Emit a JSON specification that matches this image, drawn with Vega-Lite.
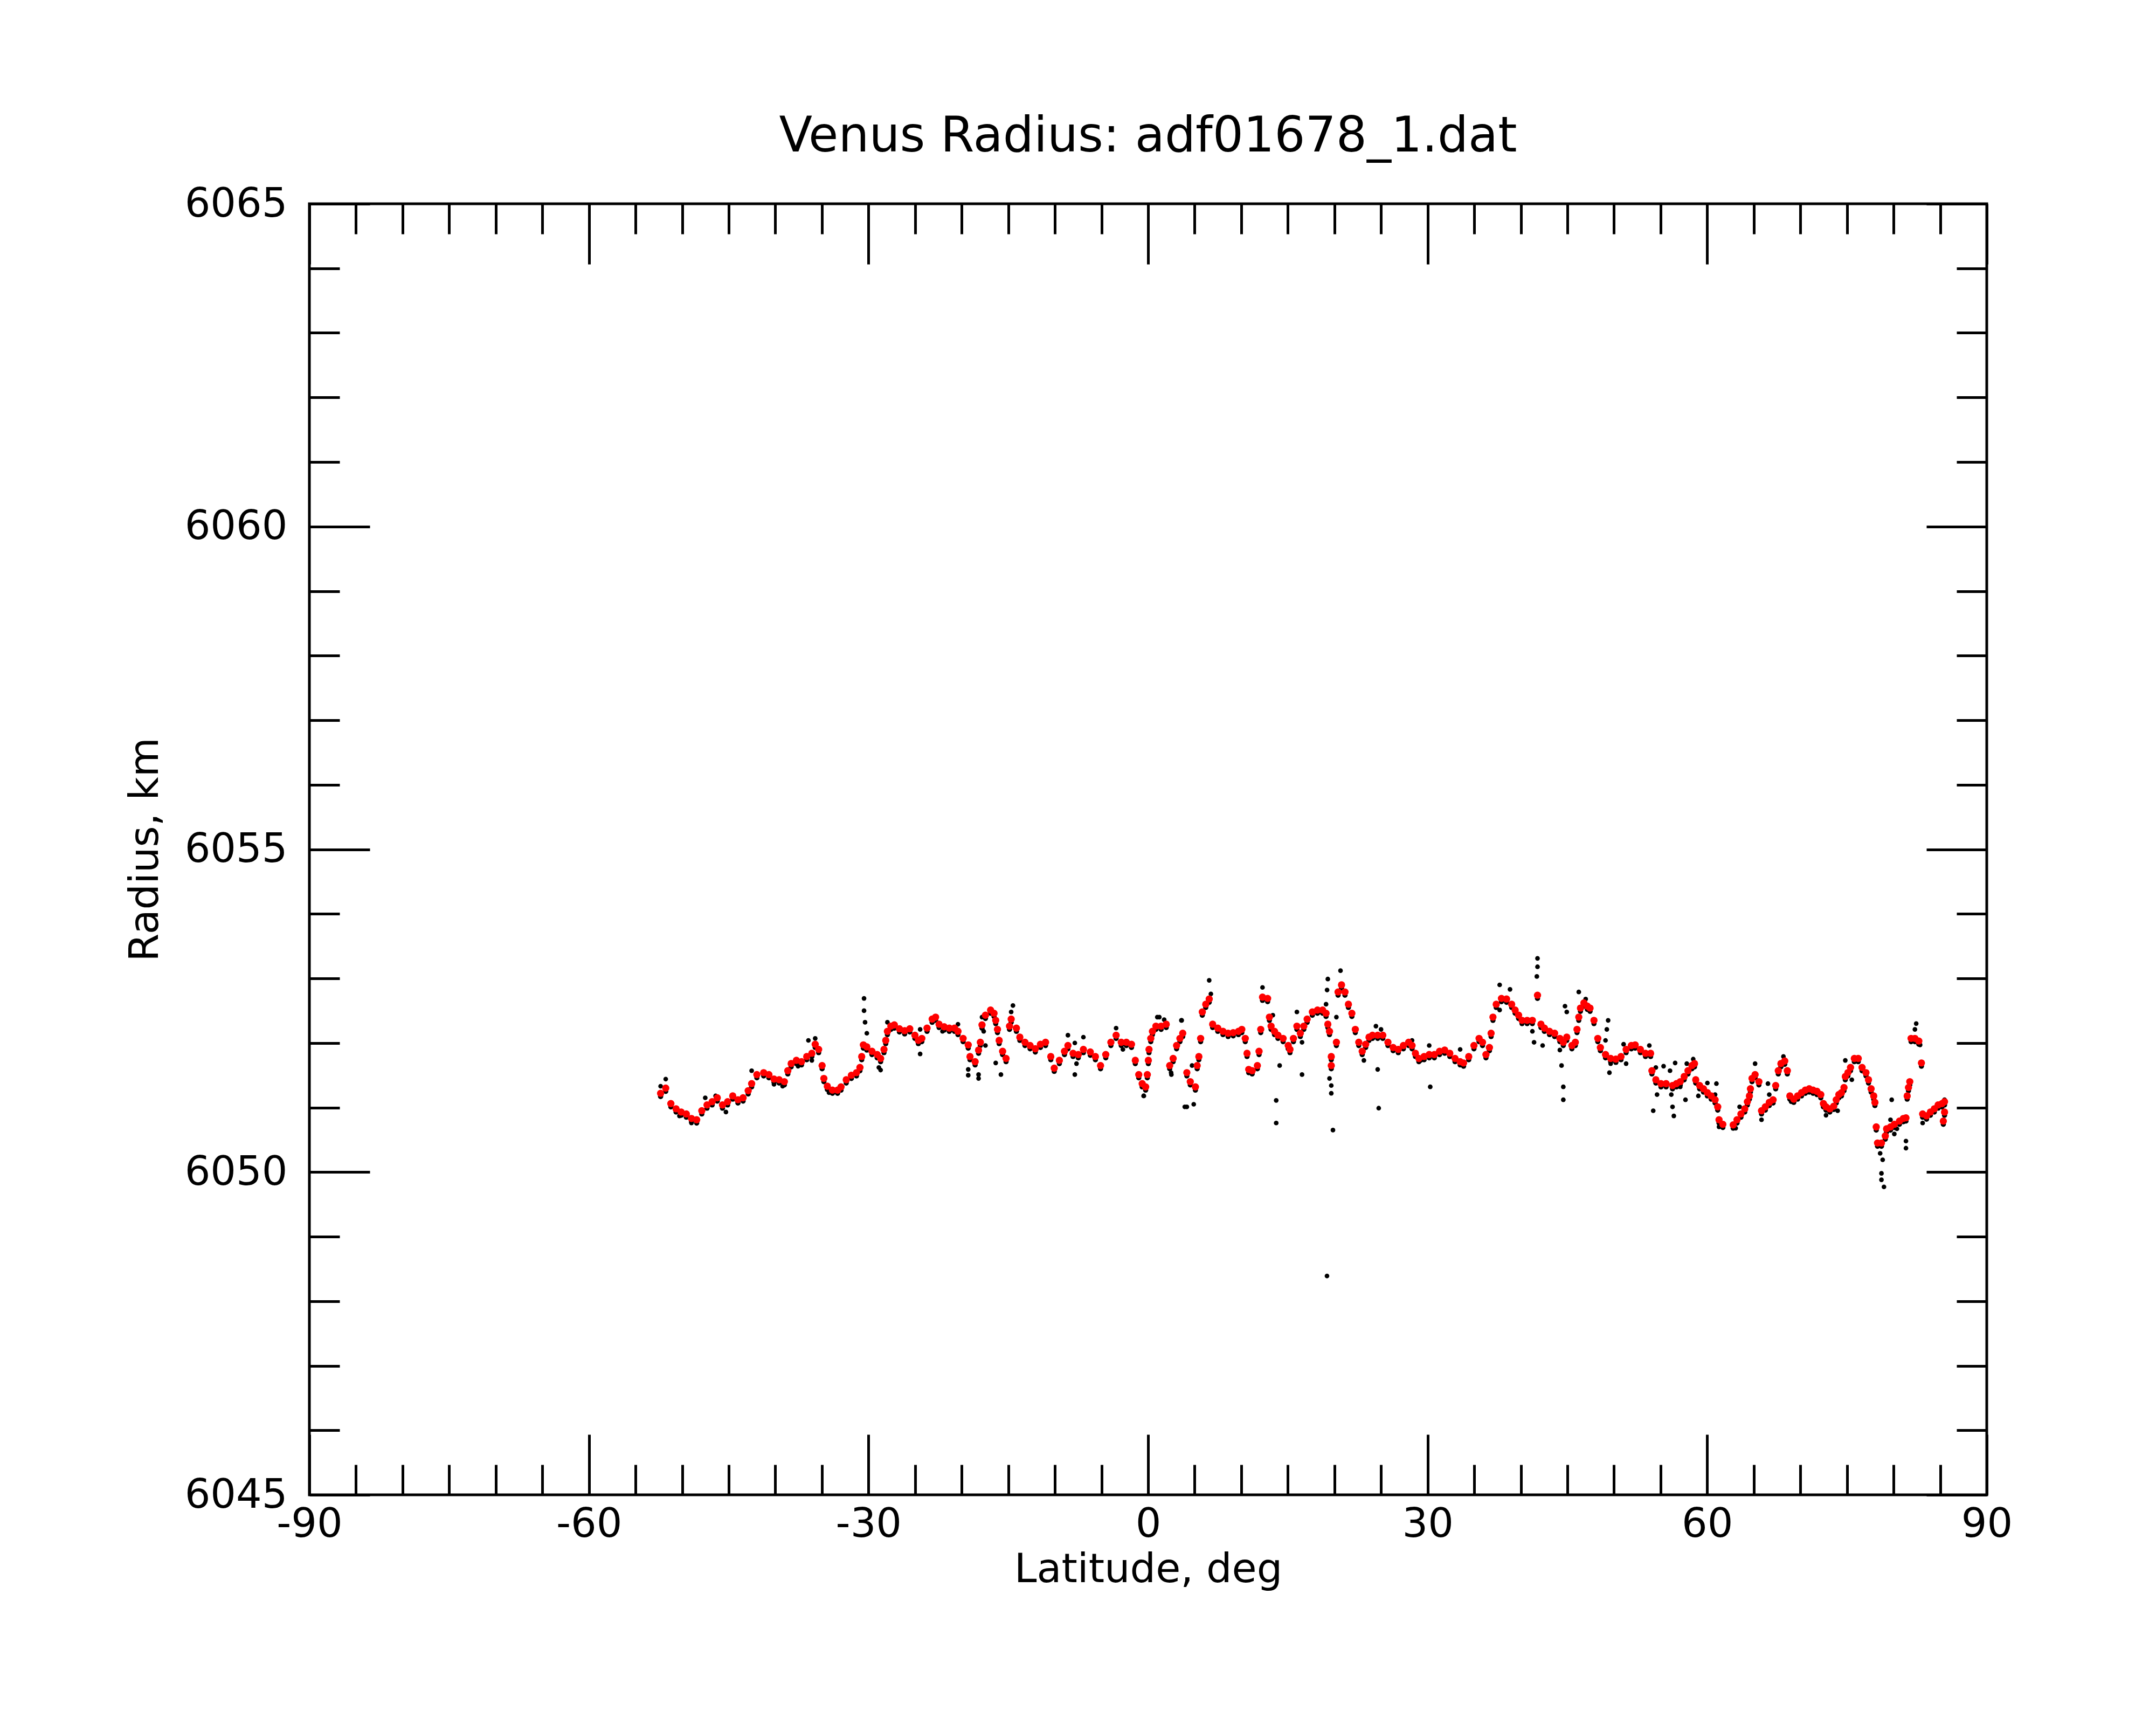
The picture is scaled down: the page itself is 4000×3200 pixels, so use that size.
{
"$schema": "https://vega.github.io/schema/vega-lite/v6.json",
"width": 3112, "height": 2395,
"autosize": {"type": "none"},
"padding": {"left": 574, "top": 378, "right": 314, "bottom": 427},
"background": "white",
"title": {"text": "Venus Radius: adf01678_1.dat", "fontSize": 90, "font": "DejaVu Sans", "fontWeight": "normal", "color": "black", "anchor": "middle", "baseline": "alphabetic", "offset": -30},
"config": {
 "view": {"stroke": "black", "strokeWidth": 5},
 "axis": {"domain": false, "grid": false, "tickColor": "black", "tickWidth": 5, "labelFont": "DejaVu Sans", "labelFontSize": 75, "labelColor": "black", "titleFont": "DejaVu Sans", "titleFontSize": 75, "titleFontWeight": "normal", "titleColor": "black", "labelFlush": false, "labelOverlap": false, "labelLimit": 0}
},
"datasets": {
"fit": [
{"lat":-52.31,"r":6051.22},{"lat":-51.76,"r":6051.30},{"lat":-51.21,"r":6051.06},{"lat":-50.65,"r":6050.98},{"lat":-50.10,"r":6050.93},{"lat":-49.55,"r":6050.90},{"lat":-49.00,"r":6050.83},{"lat":-48.44,"r":6050.81},{"lat":-47.89,"r":6050.95},{"lat":-47.33,"r":6051.04},{"lat":-46.78,"r":6051.09},{"lat":-46.23,"r":6051.15},{"lat":-45.67,"r":6051.04},{"lat":-45.12,"r":6051.09},{"lat":-44.57,"r":6051.18},{"lat":-44.01,"r":6051.12},{"lat":-43.46,"r":6051.15},{"lat":-42.91,"r":6051.26},{"lat":-42.54,"r":6051.37},{"lat":-41.98,"r":6051.51},{"lat":-41.25,"r":6051.54},{"lat":-40.69,"r":6051.51},{"lat":-40.14,"r":6051.44},{"lat":-39.59,"r":6051.43},{"lat":-39.03,"r":6051.40},{"lat":-38.66,"r":6051.57},{"lat":-38.30,"r":6051.68},{"lat":-37.74,"r":6051.73},{"lat":-37.19,"r":6051.71},{"lat":-36.63,"r":6051.79},{"lat":-36.08,"r":6051.84},{"lat":-35.72,"r":6051.98},{"lat":-35.35,"r":6051.90},{"lat":-34.98,"r":6051.65},{"lat":-34.79,"r":6051.45},{"lat":-34.42,"r":6051.33},{"lat":-33.87,"r":6051.27},{"lat":-33.32,"r":6051.27},{"lat":-32.95,"r":6051.32},{"lat":-32.39,"r":6051.43},{"lat":-31.84,"r":6051.50},{"lat":-31.29,"r":6051.54},{"lat":-30.92,"r":6051.62},{"lat":-30.73,"r":6051.79},{"lat":-30.55,"r":6051.97},{"lat":-30.18,"r":6051.94},{"lat":-29.63,"r":6051.87},{"lat":-29.07,"r":6051.82},{"lat":-28.70,"r":6051.76},{"lat":-28.34,"r":6051.90},{"lat":-28.15,"r":6052.04},{"lat":-27.97,"r":6052.18},{"lat":-27.60,"r":6052.26},{"lat":-27.23,"r":6052.28},{"lat":-26.68,"r":6052.22},{"lat":-26.12,"r":6052.19},{"lat":-25.57,"r":6052.22},{"lat":-25.02,"r":6052.12},{"lat":-24.65,"r":6052.04},{"lat":-24.28,"r":6052.07},{"lat":-23.72,"r":6052.23},{"lat":-23.17,"r":6052.37},{"lat":-22.80,"r":6052.40},{"lat":-22.43,"r":6052.29},{"lat":-21.88,"r":6052.25},{"lat":-21.33,"r":6052.23},{"lat":-20.77,"r":6052.23},{"lat":-20.40,"r":6052.18},{"lat":-19.85,"r":6052.07},{"lat":-19.30,"r":6051.97},{"lat":-19.11,"r":6051.79},{"lat":-18.56,"r":6051.71},{"lat":-18.19,"r":6051.89},{"lat":-18.00,"r":6052.01},{"lat":-17.82,"r":6052.28},{"lat":-17.45,"r":6052.43},{"lat":-16.90,"r":6052.51},{"lat":-16.53,"r":6052.46},{"lat":-16.35,"r":6052.35},{"lat":-16.16,"r":6052.21},{"lat":-15.98,"r":6052.04},{"lat":-15.61,"r":6051.87},{"lat":-15.24,"r":6051.76},{"lat":-14.87,"r":6052.26},{"lat":-14.69,"r":6052.37},{"lat":-14.13,"r":6052.23},{"lat":-13.76,"r":6052.09},{"lat":-13.21,"r":6052.01},{"lat":-12.66,"r":6051.96},{"lat":-12.10,"r":6051.91},{"lat":-11.55,"r":6051.98},{"lat":-11.00,"r":6052.01},{"lat":-10.44,"r":6051.79},{"lat":-10.07,"r":6051.61},{"lat":-9.52,"r":6051.73},{"lat":-8.97,"r":6051.87},{"lat":-8.60,"r":6051.96},{"lat":-8.05,"r":6051.84},{"lat":-7.49,"r":6051.82},{"lat":-6.94,"r":6051.90},{"lat":-6.20,"r":6051.86},{"lat":-5.65,"r":6051.79},{"lat":-5.10,"r":6051.65},{"lat":-4.54,"r":6051.82},{"lat":-3.99,"r":6052.01},{"lat":-3.43,"r":6052.12},{"lat":-2.88,"r":6052.01},{"lat":-2.33,"r":6052.01},{"lat":-1.78,"r":6051.98},
{"lat":-1.37,"r":6051.73},{"lat":-1.00,"r":6051.51},{"lat":-0.63,"r":6051.37},{"lat":-0.26,"r":6051.32},{"lat":-0.08,"r":6051.51},{"lat":0.03,"r":6051.73},{"lat":0.10,"r":6051.90},{"lat":0.29,"r":6052.07},{"lat":0.47,"r":6052.18},{"lat":0.84,"r":6052.26},{"lat":1.40,"r":6052.26},{"lat":1.95,"r":6052.29},{"lat":2.32,"r":6051.65},{"lat":2.69,"r":6051.76},{"lat":3.06,"r":6051.96},{"lat":3.42,"r":6052.07},{"lat":3.72,"r":6052.15},{"lat":4.16,"r":6051.54},{"lat":4.53,"r":6051.40},{"lat":5.08,"r":6051.32},{"lat":5.27,"r":6051.65},{"lat":5.45,"r":6051.79},{"lat":5.64,"r":6052.07},{"lat":5.82,"r":6052.48},{"lat":6.19,"r":6052.60},{"lat":6.56,"r":6052.68},{"lat":6.93,"r":6052.29},{"lat":7.48,"r":6052.23},{"lat":8.04,"r":6052.18},{"lat":8.59,"r":6052.15},{"lat":9.14,"r":6052.16},{"lat":9.70,"r":6052.18},{"lat":10.06,"r":6052.21},{"lat":10.43,"r":6052.07},{"lat":10.62,"r":6051.84},{"lat":10.80,"r":6051.59},{"lat":11.17,"r":6051.57},{"lat":11.73,"r":6051.65},{"lat":11.91,"r":6051.87},{"lat":12.09,"r":6052.21},{"lat":12.28,"r":6052.71},{"lat":12.83,"r":6052.69},{"lat":13.02,"r":6052.40},{"lat":13.20,"r":6052.26},{"lat":13.57,"r":6052.18},{"lat":13.94,"r":6052.12},{"lat":14.49,"r":6052.07},{"lat":15.04,"r":6051.96},{"lat":15.23,"r":6051.90},{"lat":15.60,"r":6052.07},{"lat":15.97,"r":6052.26},{"lat":16.34,"r":6052.15},{"lat":16.71,"r":6052.26},{"lat":17.07,"r":6052.37},{"lat":17.63,"r":6052.48},{"lat":18.18,"r":6052.51},{"lat":18.73,"r":6052.51},{"lat":19.10,"r":6052.46},{"lat":19.29,"r":6052.29},{"lat":19.47,"r":6052.18},{"lat":19.66,"r":6051.79},{"lat":19.66,"r":6051.65},{"lat":20.21,"r":6052.01},{"lat":20.39,"r":6052.79},{"lat":20.76,"r":6052.90},{"lat":21.13,"r":6052.79},{"lat":21.50,"r":6052.60},{"lat":21.87,"r":6052.46},{"lat":22.24,"r":6052.21},{"lat":22.61,"r":6052.01},{"lat":22.98,"r":6051.87},{"lat":23.35,"r":6051.98},{"lat":23.71,"r":6052.09},{"lat":24.08,"r":6052.12},{"lat":24.64,"r":6052.12},{"lat":25.19,"r":6052.12},{"lat":25.74,"r":6052.01},{"lat":26.30,"r":6051.93},{"lat":26.85,"r":6051.90},{"lat":27.40,"r":6051.96},{"lat":27.96,"r":6052.01},{"lat":28.33,"r":6051.96},{"lat":28.69,"r":6051.84},{"lat":29.06,"r":6051.76},{"lat":29.62,"r":6051.79},{"lat":30.17,"r":6051.82},{"lat":30.72,"r":6051.82},{"lat":31.28,"r":6051.87},{"lat":31.83,"r":6051.89},{"lat":32.38,"r":6051.84},{"lat":32.94,"r":6051.76},{"lat":33.49,"r":6051.71},{"lat":33.86,"r":6051.69},{"lat":34.41,"r":6051.79},{"lat":34.97,"r":6051.96},{"lat":35.52,"r":6052.07},{"lat":35.89,"r":6052.01},{"lat":36.26,"r":6051.82},{"lat":36.63,"r":6051.93},{"lat":36.81,"r":6052.15},{"lat":37.01,"r":6052.40},{"lat":37.36,"r":6052.60},{"lat":37.92,"r":6052.69},{"lat":38.47,"r":6052.68},{"lat":39.02,"r":6052.60},{"lat":39.39,"r":6052.51},{"lat":39.76,"r":6052.43},{"lat":40.13,"r":6052.35},{"lat":40.68,"r":6052.35},{"lat":41.24,"r":6052.35},{"lat":41.79,"r":6052.74},{"lat":42.16,"r":6052.29},{"lat":42.53,"r":6052.23},{"lat":43.08,"r":6052.18},{"lat":43.63,"r":6052.15},{"lat":44.19,"r":6052.07},{"lat":44.56,"r":6052.01},{"lat":44.93,"r":6052.09},{"lat":45.48,"r":6051.96},{"lat":45.85,"r":6052.01},{"lat":46.03,"r":6052.21},{"lat":46.22,"r":6052.40},{"lat":46.40,"r":6052.54},{"lat":46.77,"r":6052.62},{"lat":47.14,"r":6052.57},
{"lat":47.43,"r":6052.54},{"lat":47.85,"r":6052.35},{"lat":48.26,"r":6052.07},{"lat":48.54,"r":6051.93},{"lat":49.09,"r":6051.82},{"lat":49.64,"r":6051.76},{"lat":50.20,"r":6051.75},{"lat":50.75,"r":6051.79},{"lat":51.30,"r":6051.90},{"lat":51.86,"r":6051.96},{"lat":52.27,"r":6051.97},{"lat":52.83,"r":6051.90},{"lat":53.38,"r":6051.84},{"lat":53.93,"r":6051.84},{"lat":54.07,"r":6051.57},{"lat":54.49,"r":6051.43},{"lat":55.04,"r":6051.37},{"lat":55.59,"r":6051.37},{"lat":56.28,"r":6051.34},{"lat":56.70,"r":6051.37},{"lat":57.11,"r":6051.40},{"lat":57.53,"r":6051.48},{"lat":57.94,"r":6051.57},{"lat":58.36,"r":6051.65},{"lat":58.64,"r":6051.68},{"lat":58.77,"r":6051.43},{"lat":59.19,"r":6051.34},{"lat":59.60,"r":6051.29},{"lat":60.02,"r":6051.23},{"lat":60.43,"r":6051.18},{"lat":60.85,"r":6051.12},{"lat":61.13,"r":6051.01},{"lat":61.27,"r":6050.81},{"lat":61.68,"r":6050.74},{"lat":62.79,"r":6050.73},{"lat":63.20,"r":6050.81},{"lat":63.62,"r":6050.90},{"lat":64.03,"r":6050.98},{"lat":64.31,"r":6051.09},{"lat":64.53,"r":6051.18},{"lat":64.64,"r":6051.29},{"lat":64.81,"r":6051.45},{"lat":65.14,"r":6051.51},{"lat":65.55,"r":6051.40},{"lat":65.83,"r":6050.95},{"lat":66.24,"r":6051.01},{"lat":66.66,"r":6051.08},{"lat":67.07,"r":6051.12},{"lat":67.35,"r":6051.34},{"lat":67.63,"r":6051.57},{"lat":67.91,"r":6051.68},{"lat":68.32,"r":6051.72},{"lat":68.60,"r":6051.57},{"lat":68.87,"r":6051.18},{"lat":69.29,"r":6051.13},{"lat":69.70,"r":6051.18},{"lat":70.12,"r":6051.23},{"lat":70.53,"r":6051.27},{"lat":70.95,"r":6051.29},{"lat":71.36,"r":6051.27},{"lat":71.78,"r":6051.25},{"lat":72.19,"r":6051.20},{"lat":72.47,"r":6051.06},{"lat":72.75,"r":6051.01},{"lat":73.16,"r":6050.98},{"lat":73.58,"r":6051.02},{"lat":73.85,"r":6051.12},{"lat":74.13,"r":6051.20},{"lat":74.41,"r":6051.23},{"lat":74.68,"r":6051.31},{"lat":74.82,"r":6051.48},{"lat":75.10,"r":6051.54},{"lat":75.38,"r":6051.62},{"lat":75.79,"r":6051.76},{"lat":76.21,"r":6051.76},{"lat":76.62,"r":6051.62},{"lat":77.04,"r":6051.54},{"lat":77.31,"r":6051.43},{"lat":77.59,"r":6051.29},{"lat":77.87,"r":6051.18},{"lat":78.00,"r":6051.08},{"lat":78.14,"r":6050.70},{"lat":78.28,"r":6050.45},{"lat":78.70,"r":6050.45},{"lat":79.11,"r":6050.56},{"lat":79.25,"r":6050.67},{"lat":79.67,"r":6050.70},{"lat":80.08,"r":6050.74},{"lat":80.63,"r":6050.79},{"lat":81.05,"r":6050.83},{"lat":81.33,"r":6050.84},{"lat":81.46,"r":6051.18},{"lat":81.60,"r":6051.31},{"lat":81.74,"r":6051.40},{"lat":81.88,"r":6052.07},{"lat":82.29,"r":6052.07},{"lat":82.71,"r":6052.03},{"lat":82.99,"r":6051.69},{"lat":83.12,"r":6050.90},{"lat":83.54,"r":6050.87},{"lat":83.95,"r":6050.93},{"lat":84.37,"r":6050.98},{"lat":84.78,"r":6051.04},{"lat":85.20,"r":6051.06},{"lat":85.47,"r":6051.09},{"lat":85.47,"r":6050.93},{"lat":85.34,"r":6050.79}
],
"raw": [
{"lat":-51.76,"r":6051.44,"grp":"a"},{"lat":-52.31,"r":6051.33,"grp":"a"},{"lat":-50.29,"r":6050.87,"grp":"a"},{"lat":-49.00,"r":6050.76,"grp":"a"},{"lat":-47.52,"r":6051.15,"grp":"a"},{"lat":-46.41,"r":6051.18,"grp":"a"},{"lat":-45.30,"r":6050.93,"grp":"a"},{"lat":-42.54,"r":6051.57,"grp":"a"},{"lat":-37.56,"r":6051.64,"grp":"a"},{"lat":-40.14,"r":6051.36,"grp":"a"},{"lat":-39.22,"r":6051.33,"grp":"a"},{"lat":-36.45,"r":6052.04,"grp":"a"},{"lat":-35.72,"r":6052.07,"grp":"a"},{"lat":-36.08,"r":6051.73,"grp":"a"},{"lat":-34.24,"r":6051.23,"grp":"a"},{"lat":-33.32,"r":6051.22,"grp":"a"},{"lat":-30.48,"r":6052.69,"grp":"a"},{"lat":-30.48,"r":6052.50,"grp":"a"},{"lat":-30.37,"r":6052.32,"grp":"a"},{"lat":-30.18,"r":6052.15,"grp":"a"},{"lat":-28.89,"r":6051.62,"grp":"a"},{"lat":-28.70,"r":6051.58,"grp":"a"},{"lat":-27.97,"r":6052.32,"grp":"a"},{"lat":-24.46,"r":6052.21,"grp":"a"},{"lat":-24.46,"r":6051.83,"grp":"a"},{"lat":-22.06,"r":6052.18,"grp":"a"},{"lat":-20.40,"r":6052.29,"grp":"a"},{"lat":-19.30,"r":6051.59,"grp":"a"},{"lat":-19.30,"r":6051.50,"grp":"a"},{"lat":-18.19,"r":6051.51,"grp":"a"},{"lat":-18.19,"r":6051.45,"grp":"a"},{"lat":-17.82,"r":6052.40,"grp":"a"},{"lat":-17.64,"r":6052.18,"grp":"a"},{"lat":-17.45,"r":6051.96,"grp":"a"},{"lat":-16.35,"r":6051.69,"grp":"a"},{"lat":-15.79,"r":6051.51,"grp":"a"},{"lat":-14.50,"r":6052.58,"grp":"a"},{"lat":-14.69,"r":6052.48,"grp":"a"},{"lat":-8.60,"r":6052.12,"grp":"a"},{"lat":-7.86,"r":6052.00,"grp":"a"},{"lat":-7.86,"r":6051.51,"grp":"a"},{"lat":-7.68,"r":6051.68,"grp":"a"},{"lat":-6.94,"r":6052.09,"grp":"a"},{"lat":-3.43,"r":6052.23,"grp":"a"},{"lat":-2.70,"r":6051.90,"grp":"a"},{"lat":-0.48,"r":6051.18,"grp":"a"},{"lat":0.99,"r":6052.40,"grp":"a"},{"lat":1.73,"r":6052.36,"grp":"a"},{"lat":3.57,"r":6052.35,"grp":"a"},{"lat":2.47,"r":6051.54,"grp":"a"},{"lat":3.94,"r":6051.01,"grp":"a"},
{"lat":6.56,"r":6052.97,"grp":"a"},{"lat":6.74,"r":6052.76,"grp":"a"},{"lat":12.28,"r":6052.86,"grp":"a"},{"lat":13.39,"r":6052.43,"grp":"a"},{"lat":14.12,"r":6051.65,"grp":"a"},{"lat":13.75,"r":6051.11,"grp":"a"},{"lat":13.75,"r":6050.76,"grp":"a"},{"lat":15.97,"r":6052.48,"grp":"a"},{"lat":16.52,"r":6051.51,"grp":"a"},{"lat":16.52,"r":6052.01,"grp":"a"},{"lat":19.29,"r":6052.99,"grp":"a"},{"lat":19.21,"r":6052.82,"grp":"a"},{"lat":19.10,"r":6052.60,"grp":"a"},{"lat":19.47,"r":6051.45,"grp":"a"},{"lat":19.66,"r":6051.34,"grp":"a"},{"lat":19.66,"r":6051.22,"grp":"a"},{"lat":19.84,"r":6050.65,"grp":"a"},{"lat":19.20,"r":6048.39,"grp":"a"},{"lat":20.21,"r":6052.40,"grp":"a"},{"lat":20.65,"r":6053.12,"grp":"a"},{"lat":23.16,"r":6051.73,"grp":"a"},{"lat":24.45,"r":6052.26,"grp":"a"},{"lat":24.64,"r":6051.59,"grp":"a"},{"lat":24.75,"r":6050.99,"grp":"a"},{"lat":25.00,"r":6052.21,"grp":"a"},{"lat":30.17,"r":6051.96,"grp":"a"},{"lat":30.28,"r":6051.32,"grp":"a"},{"lat":33.49,"r":6051.90,"grp":"a"},{"lat":37.73,"r":6052.90,"grp":"a"},{"lat":38.84,"r":6052.83,"grp":"a"},{"lat":37.73,"r":6052.51,"grp":"a"},{"lat":41.79,"r":6053.31,"grp":"a"},{"lat":41.79,"r":6053.18,"grp":"a"},{"lat":41.72,"r":6053.03,"grp":"a"},{"lat":41.24,"r":6052.18,"grp":"a"},{"lat":41.42,"r":6052.01,"grp":"a"},{"lat":42.34,"r":6051.96,"grp":"a"},{"lat":44.19,"r":6051.89,"grp":"a"},{"lat":44.37,"r":6051.65,"grp":"a"},{"lat":44.56,"r":6051.32,"grp":"a"},{"lat":44.56,"r":6051.12,"grp":"a"},{"lat":44.74,"r":6052.57,"grp":"a"},{"lat":44.93,"r":6052.48,"grp":"a"},{"lat":46.22,"r":6052.79,"grp":"a"},{"lat":46.96,"r":6052.68,"grp":"a"},{"lat":4.16,"r":6051.01,"grp":"a"},{"lat":4.90,"r":6051.05,"grp":"a"},{"lat":4.72,"r":6051.65,"grp":"a"},{"lat":3.61,"r":6052.35,"grp":"a"},{"lat":2.50,"r":6051.51,"grp":"a"},{"lat":1.21,"r":6052.40,"grp":"a"},{"lat":-0.45,"r":6051.18,"grp":"a"},{"lat":33.67,"r":6051.68,"grp":"a"},{"lat":29.25,"r":6051.73,"grp":"a"},{"lat":28.33,"r":6052.04,"grp":"a"},
{"lat":49.37,"r":6052.35,"grp":"b"},{"lat":49.23,"r":6052.21,"grp":"b"},{"lat":49.09,"r":6052.04,"grp":"b"},{"lat":49.51,"r":6051.54,"grp":"b"},{"lat":49.64,"r":6051.68,"grp":"b"},{"lat":51.03,"r":6051.98,"grp":"b"},{"lat":51.30,"r":6051.68,"grp":"b"},{"lat":53.79,"r":6051.96,"grp":"b"},{"lat":54.21,"r":6050.95,"grp":"b"},{"lat":54.49,"r":6051.62,"grp":"b"},{"lat":54.62,"r":6051.20,"grp":"b"},{"lat":55.32,"r":6051.64,"grp":"b"},{"lat":56.01,"r":6051.57,"grp":"b"},{"lat":56.15,"r":6051.20,"grp":"b"},{"lat":56.28,"r":6051.01,"grp":"b"},{"lat":56.42,"r":6050.87,"grp":"b"},{"lat":56.56,"r":6051.69,"grp":"b"},{"lat":57.11,"r":6051.32,"grp":"b"},{"lat":57.67,"r":6051.12,"grp":"b"},{"lat":57.81,"r":6051.68,"grp":"b"},{"lat":58.50,"r":6051.75,"grp":"b"},{"lat":59.05,"r":6051.18,"grp":"b"},{"lat":60.02,"r":6051.38,"grp":"b"},{"lat":60.99,"r":6051.37,"grp":"b"},{"lat":60.85,"r":6051.20,"grp":"b"},{"lat":61.27,"r":6050.70,"grp":"b"},{"lat":63.06,"r":6050.68,"grp":"b"},{"lat":63.48,"r":6051.01,"grp":"b"},{"lat":65.14,"r":6051.68,"grp":"b"},{"lat":66.52,"r":6051.37,"grp":"b"},{"lat":66.66,"r":6051.20,"grp":"b"},{"lat":65.83,"r":6050.81,"grp":"b"},{"lat":68.18,"r":6051.79,"grp":"b"},{"lat":69.01,"r":6051.09,"grp":"b"},{"lat":72.75,"r":6050.88,"grp":"b"},{"lat":74.00,"r":6050.95,"grp":"b"},{"lat":74.82,"r":6051.73,"grp":"b"},{"lat":75.52,"r":6051.43,"grp":"b"},{"lat":78.56,"r":6050.29,"grp":"b"},{"lat":78.83,"r":6050.19,"grp":"b"},{"lat":78.70,"r":6049.98,"grp":"b"},{"lat":78.70,"r":6049.88,"grp":"b"},{"lat":78.97,"r":6049.77,"grp":"b"},{"lat":79.80,"r":6051.12,"grp":"b"},{"lat":80.08,"r":6050.59,"grp":"b"},{"lat":79.67,"r":6050.81,"grp":"b"},{"lat":81.33,"r":6050.48,"grp":"b"},{"lat":81.33,"r":6050.37,"grp":"b"},{"lat":82.43,"r":6052.30,"grp":"b"},{"lat":82.29,"r":6052.21,"grp":"b"},{"lat":82.85,"r":6051.97,"grp":"b"},{"lat":83.12,"r":6050.76,"grp":"b"},{"lat":85.47,"r":6051.12,"grp":"b"},{"lat":80.36,"r":6050.67,"grp":"b"}
]
},
"layer": [
{
 "data": {"name": "raw"},
 "transform": [{"filter": "datum.grp == 'a'"}],
 "mark": {"type": "point", "filled": true, "shape": "circle", "color": "black", "size": 75, "opacity": 1, "strokeWidth": 0},
 "encoding": {
  "x": {"field": "lat", "type": "quantitative", "scale": {"domain": [-90, 90], "nice": false, "zero": false},
   "axis": {"orient": "bottom", "values": [-90,-60,-30,0,30,60,90], "tickSize": -112, "labelPadding": 130, "labelExpr": "'' + datum.value", "title": "Latitude, deg", "titlePadding": 10}},
  "y": {"field": "r", "type": "quantitative", "scale": {"domain": [6045, 6065], "nice": false, "zero": false},
   "axis": {"orient": "left", "values": [6045,6050,6055,6060,6065], "tickSize": -112, "labelPadding": 153, "labelExpr": "'' + datum.value", "title": "Radius, km", "titlePadding": 66}}
 }
},
{
 "data": {"name": "fit"},
 "mark": {"type": "point", "filled": true, "shape": "circle", "color": "black", "size": 95, "opacity": 1, "strokeWidth": 0, "yOffset": 6},
 "encoding": {
  "x": {"field": "lat", "type": "quantitative", "scale": {"domain": [-90, 90], "nice": false, "zero": false},
   "axis": {"orient": "bottom", "values": [-85,-80,-75,-70,-65,-55,-50,-45,-40,-35,-25,-20,-15,-10,-5,5,10,15,20,25,35,40,45,50,55,65,70,75,80,85], "tickSize": -56, "labels": false, "title": null}},
  "y": {"field": "r", "type": "quantitative", "scale": {"domain": [6045, 6065], "nice": false, "zero": false},
   "axis": {"orient": "left", "values": [6046,6047,6048,6049,6051,6052,6053,6054,6056,6057,6058,6059,6061,6062,6063,6064], "tickSize": -56, "labels": false, "title": null}}
 }
},
{
 "data": {"name": "raw"},
 "transform": [{"filter": "datum.grp == 'b'"}],
 "mark": {"type": "point", "filled": true, "shape": "circle", "color": "black", "size": 75, "opacity": 1, "strokeWidth": 0},
 "encoding": {
  "x": {"field": "lat", "type": "quantitative", "scale": {"domain": [-90, 90], "nice": false, "zero": false},
   "axis": {"orient": "top", "values": [-90,-60,-30,0,30,60,90], "tickSize": -112, "labels": false, "title": null}},
  "y": {"field": "r", "type": "quantitative", "scale": {"domain": [6045, 6065], "nice": false, "zero": false},
   "axis": {"orient": "right", "values": [6045,6050,6055,6060,6065], "tickSize": -112, "labels": false, "title": null}}
 }
},
{
 "data": {"name": "fit"},
 "mark": {"type": "point", "filled": true, "shape": "circle", "color": "#ff0000", "size": 180, "opacity": 1, "strokeWidth": 0},
 "encoding": {
  "x": {"field": "lat", "type": "quantitative", "scale": {"domain": [-90, 90], "nice": false, "zero": false},
   "axis": {"orient": "top", "values": [-85,-80,-75,-70,-65,-55,-50,-45,-40,-35,-25,-20,-15,-10,-5,5,10,15,20,25,35,40,45,50,55,65,70,75,80,85], "tickSize": -56, "labels": false, "title": null}},
  "y": {"field": "r", "type": "quantitative", "scale": {"domain": [6045, 6065], "nice": false, "zero": false},
   "axis": {"orient": "right", "values": [6046,6047,6048,6049,6051,6052,6053,6054,6056,6057,6058,6059,6061,6062,6063,6064], "tickSize": -56, "labels": false, "title": null}}
 }
}
],
"resolve": {"axis": {"x": "independent", "y": "independent"}}
}
